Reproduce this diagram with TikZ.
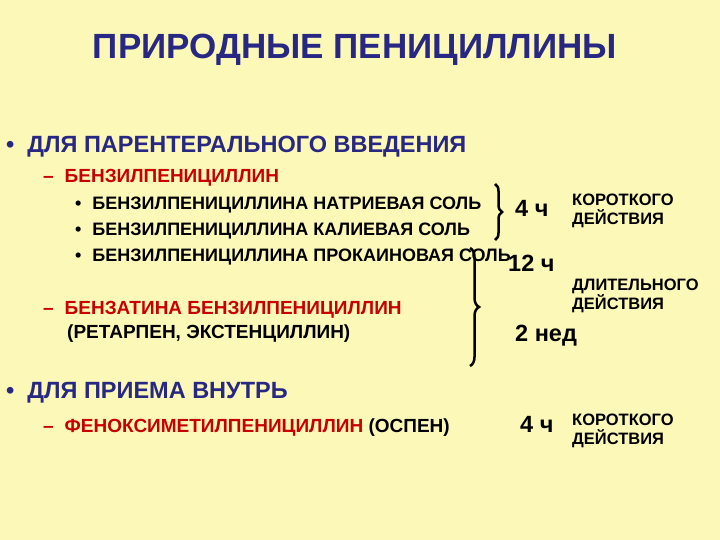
\documentclass[tikz,border=0pt]{standalone}
\usepackage{fontspec}
\setmainfont{Liberation Sans}
\usetikzlibrary{decorations.pathreplacing}
\definecolor{bg}{RGB}{252,248,184}
\definecolor{navy}{RGB}{40,40,130}
\definecolor{redt}{RGB}{200,0,0}
\begin{document}
\begin{tikzpicture}[x=1pt,y=-1pt,
  t/.style={anchor=west,inner sep=0pt,font=\bfseries\fontsize{18}{19}\selectfont},
  m/.style={anchor=west,inner sep=0pt,font=\bfseries\fontsize{19}{20}\selectfont},
  big/.style={anchor=west,inner sep=0pt,font=\bfseries\fontsize{23.5}{25}\selectfont},
  lab/.style={anchor=west,inner sep=0pt,align=left,font=\bfseries\fontsize{16.5}{19}\selectfont},
  br/.style={decorate,decoration={brace,amplitude=7pt},line width=2.5pt}]
\fill[bg] (0,0) rectangle (720,540);
\useasboundingbox (0,0) rectangle (720,540);
\node[navy,inner sep=0pt,font=\bfseries\fontsize{35}{38}\selectfont] (title) at (355,50) {ПРИРОДНЫЕ ПЕНИЦИЛЛИНЫ};
\node[big,navy] (b1) at (6,147) {•\hspace{13pt}ДЛЯ ПАРЕНТЕРАЛЬНОГО ВВЕДЕНИЯ};
\node[m,redt] (d1) at (43,178) {–\hspace{11pt}БЕНЗИЛПЕНИЦИЛЛИН};
\node[t] (s1) at (75,205) {•\hspace{11pt}БЕНЗИЛПЕНИЦИЛЛИНА НАТРИЕВАЯ СОЛЬ};
\node[t] (s2) at (75,231) {•\hspace{11pt}БЕНЗИЛПЕНИЦИЛЛИНА КАЛИЕВАЯ СОЛЬ};
\node[t] (s3) at (75,257) {•\hspace{11pt}БЕНЗИЛПЕНИЦИЛЛИНА ПРОКАИНОВАЯ СОЛЬ};
\node[m,redt] (d2) at (43,310) {–\hspace{11pt}БЕНЗАТИНА БЕНЗИЛПЕНИЦИЛЛИН};
\node[m] (d2b) at (67,334) {(РЕТАРПЕН, ЭКСТЕНЦИЛЛИН)};
\node[big,navy] (b2) at (6,393) {•\hspace{13pt}ДЛЯ ПРИЕМА ВНУТРЬ};
\node[m] (d3) at (43,428) {\textcolor{redt}{–\hspace{11pt}ФЕНОКСИМЕТИЛПЕНИЦИЛЛИН} (ОСПЕН)};
\node[big] (h4a) at (515,208) {4 ч};
\node[lab] (k1) at (572,211) {КОРОТКОГО\\ДЕЙСТВИЯ};
\node[big] (h12) at (508,263) {12 ч};
\node[lab] (l1) at (572,296) {ДЛИТЕЛЬНОГО\\ДЕЙСТВИЯ};
\node[big] (w2) at (515,336) {2 нед};
\node[big] (h4b) at (520,424) {4 ч};
\node[lab] (k2) at (572,431) {КОРОТКОГО\\ДЕЙСТВИЯ};
\coordinate (c1a) at (495,184); \coordinate (c1b) at (495,240);
\coordinate (c2a) at (470,248); \coordinate (c2b) at (470,366);
\draw[br] (c1a) -- (c1b);
\draw[br,decoration={amplitude=9pt}] (c2a) -- (c2b);
\end{tikzpicture}
\end{document}
